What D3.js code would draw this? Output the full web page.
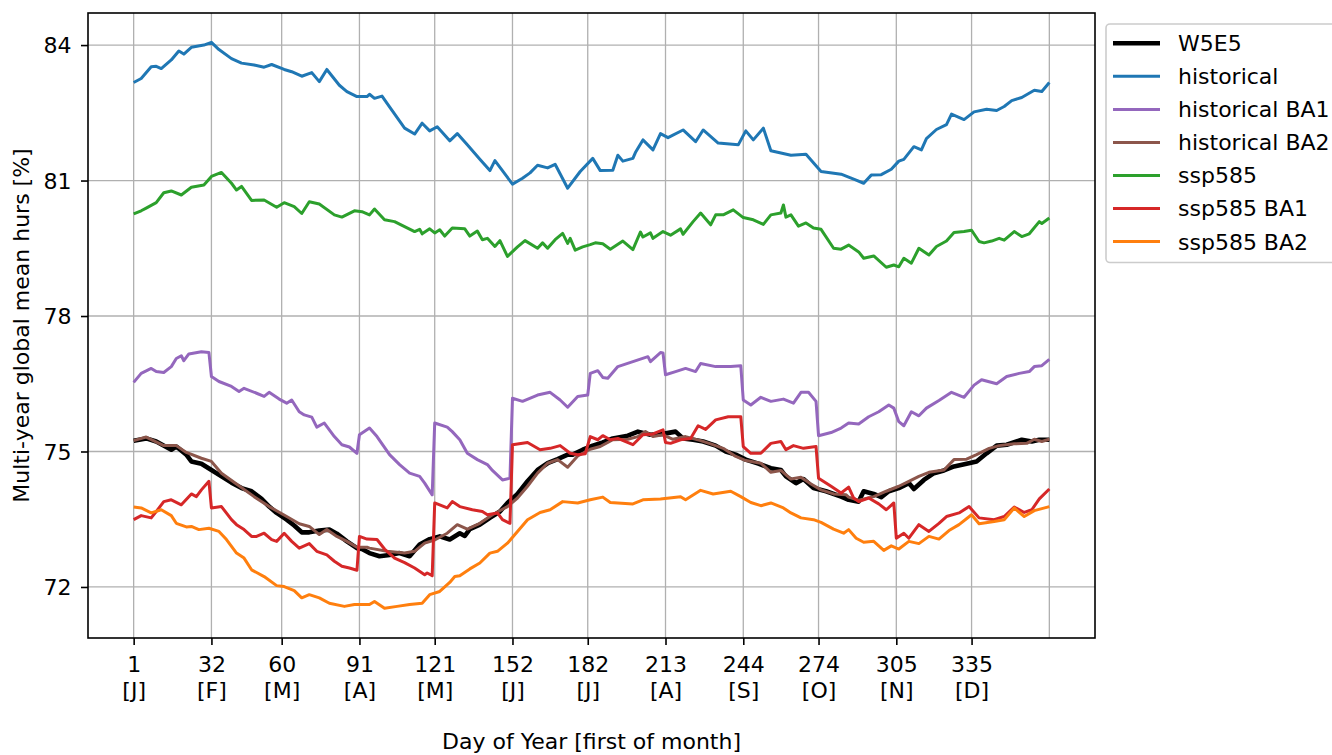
<!DOCTYPE html>
<html>
<head>
<meta charset="utf-8">
<script src="https://cdn.jsdelivr.net/npm/d3@7"></script>
<style>
  body { margin: 0; background: #fff; }
  text { font-family: "DejaVu Sans", sans-serif; fill: #000; }
</style>
</head>
<body>
<div id="chart"></div>
<script>
// x ticks: first day of each month (366 only carries a grid line)
const tickDays = [1, 32, 60, 91, 121, 152, 182, 213, 244, 274, 305, 335, 366];
const tickMonths = ["J", "F", "M", "A", "M", "J", "J", "A", "S", "O", "N", "D", ""];
const yTicks = [72, 75, 78, 81, 84];

// [day of year, multi-year global mean hurs %]
const w5e5 = [[1,75.24],[6,75.29],[10,75.22],[16,75.04],[18,75.11],[22,74.93],[24,74.78],[28,74.73],[32,74.59],[36,74.45],[40,74.31],[44,74.19],[48,74.12],[52,73.95],[55,73.78],[58,73.64],[62,73.49],[65,73.36],[68,73.21],[71,73.21],[75,73.25],[79,73.27],[82,73.18],[86,73.01],[90,72.86],[92,72.84],[95,72.75],[99,72.68],[103,72.71],[107,72.75],[111,72.68],[115,72.94],[119,73.06],[123,73.12],[127,73.05],[131,73.19],[133,73.13],[135,73.28],[139,73.38],[143,73.53],[147,73.67],[150,73.86],[154,74.06],[158,74.34],[162,74.59],[166,74.74],[170,74.83],[174,74.93],[176,74.93],[180,75.04],[184,75.13],[188,75.2],[192,75.29],[198,75.35],[202,75.44],[207,75.37],[212,75.39],[217,75.44],[220,75.29],[224,75.26],[228,75.22],[233,75.13],[237,75.0],[241,74.93],[245,74.82],[250,74.73],[255,74.63],[259,74.59],[261,74.45],[265,74.3],[268,74.39],[272,74.19],[277,74.12],[283,74.0],[286,73.93],[290,73.89],[292,74.12],[296,74.06],[299,73.99],[302,74.12],[306,74.19],[310,74.3],[312,74.17],[316,74.37],[320,74.52],[324,74.58],[328,74.67],[333,74.73],[337,74.78],[341,74.96],[345,75.13],[349,75.15],[355,75.26],[359,75.22],[362,75.26],[366,75.26]];

const historical = [[1,83.17],[4,83.26],[8,83.52],[10,83.53],[12,83.48],[16,83.67],[19,83.87],[21,83.8],[24,83.95],[29,84.0],[32,84.06],[35,83.9],[40,83.7],[44,83.6],[49,83.56],[53,83.51],[56,83.57],[61,83.46],[64,83.41],[68,83.31],[72,83.39],[75,83.19],[78,83.46],[83,83.11],[86,82.97],[90,82.86],[94,82.86],[95,82.91],[97,82.82],[100,82.87],[103,82.63],[109,82.16],[113,82.03],[116,82.27],[119,82.1],[122,82.19],[127,81.88],[130,82.04],[134,81.79],[139,81.47],[143,81.22],[145,81.44],[152,80.92],[156,81.05],[159,81.17],[162,81.34],[166,81.28],[169,81.36],[174,80.83],[179,81.2],[184,81.49],[187,81.22],[192,81.23],[194,81.56],[196,81.43],[200,81.49],[201,81.62],[204,81.9],[208,81.68],[211,82.04],[214,81.95],[220,82.12],[225,81.86],[228,82.12],[234,81.83],[242,81.79],[245,82.1],[248,81.9],[252,82.16],[255,81.66],[263,81.56],[269,81.58],[275,81.2],[283,81.14],[289,81.01],[292,80.94],[295,81.12],[299,81.13],[303,81.25],[306,81.43],[308,81.47],[312,81.75],[315,81.68],[317,81.93],[321,82.13],[325,82.24],[327,82.47],[332,82.35],[336,82.52],[341,82.58],[345,82.55],[348,82.64],[351,82.77],[355,82.84],[360,83.0],[363,82.97],[366,83.17]];

const historicalBA1 = [[1,76.53],[4,76.73],[8,76.84],[10,76.77],[13,76.75],[16,76.88],[18,77.06],[20,77.12],[21,77.01],[23,77.16],[28,77.21],[31,77.19],[32,76.66],[35,76.55],[40,76.44],[43,76.33],[45,76.4],[50,76.29],[53,76.22],[55,76.31],[59,76.16],[62,76.07],[64,76.14],[67,75.88],[69,75.81],[72,75.76],[74,75.54],[77,75.63],[81,75.33],[84,75.15],[87,75.1],[90,74.96],[91,75.37],[95,75.52],[98,75.33],[103,74.93],[107,74.71],[111,74.52],[115,74.45],[117,74.3],[120,74.04],[121,75.63],[126,75.54],[128,75.44],[131,75.26],[134,74.96],[138,74.82],[142,74.71],[144,74.58],[148,74.37],[151,74.41],[152,76.18],[156,76.11],[162,76.25],[167,76.31],[171,76.14],[174,75.98],[178,76.22],[182,76.25],[183,76.73],[186,76.79],[188,76.64],[190,76.62],[194,76.88],[200,76.99],[206,77.1],[207,76.99],[211,77.19],[212,77.18],[213,76.7],[217,76.77],[221,76.84],[225,76.77],[227,76.95],[233,76.88],[239,76.88],[243,76.9],[244,76.14],[247,76.03],[251,76.2],[255,76.11],[260,76.16],[264,76.07],[267,76.31],[270,76.31],[273,76.11],[274,75.35],[279,75.42],[283,75.52],[286,75.63],[290,75.61],[294,75.77],[298,75.88],[302,76.03],[304,75.96],[306,75.66],[308,75.57],[311,75.88],[314,75.79],[317,75.96],[322,76.13],[327,76.31],[332,76.2],[336,76.47],[339,76.59],[345,76.5],[349,76.66],[354,76.73],[358,76.77],[360,76.88],[363,76.9],[366,77.04]];

const historicalBA2 = [[1,75.24],[6,75.32],[13,75.13],[18,75.13],[22,74.98],[28,74.85],[32,74.78],[36,74.52],[42,74.28],[49,74.0],[55,73.78],[62,73.56],[67,73.4],[71,73.34],[75,73.16],[78,73.27],[82,73.12],[86,73.01],[90,72.88],[94,72.88],[95,72.86],[102,72.79],[109,72.75],[113,72.79],[117,72.97],[121,73.04],[126,73.19],[130,73.38],[134,73.28],[139,73.41],[144,73.6],[150,73.78],[154,73.97],[158,74.23],[162,74.52],[166,74.74],[170,74.82],[174,74.65],[178,74.9],[183,75.05],[187,75.11],[192,75.26],[198,75.27],[202,75.33],[205,75.44],[208,75.33],[212,75.37],[216,75.27],[221,75.33],[227,75.24],[231,75.17],[236,75.07],[241,74.89],[245,74.8],[251,74.74],[255,74.54],[259,74.58],[263,74.39],[267,74.43],[271,74.28],[275,74.15],[280,74.06],[285,74.04],[286,73.99],[290,73.92],[296,74.0],[301,74.12],[306,74.23],[310,74.34],[314,74.45],[318,74.54],[324,74.59],[328,74.82],[333,74.83],[337,74.93],[342,75.07],[346,75.13],[352,75.17],[357,75.18],[360,75.27],[363,75.22],[366,75.27]];

const ssp585 = [[1,80.26],[4,80.33],[6,80.39],[10,80.51],[13,80.73],[16,80.77],[20,80.68],[24,80.85],[29,80.9],[32,81.09],[36,81.18],[40,80.94],[42,80.79],[44,80.87],[48,80.56],[53,80.57],[58,80.41],[61,80.51],[65,80.42],[68,80.27],[71,80.53],[75,80.48],[81,80.24],[84,80.19],[89,80.33],[92,80.31],[95,80.24],[97,80.37],[101,80.13],[105,80.09],[109,79.98],[113,79.87],[115,79.92],[116,79.82],[119,79.93],[121,79.84],[123,79.91],[125,79.77],[128,79.95],[133,79.93],[135,79.77],[138,79.88],[140,79.69],[142,79.72],[145,79.54],[147,79.67],[150,79.32],[154,79.53],[157,79.67],[162,79.5],[164,79.62],[166,79.5],[169,79.69],[172,79.83],[174,79.61],[175,79.72],[177,79.46],[180,79.53],[183,79.58],[185,79.62],[188,79.6],[191,79.48],[196,79.66],[200,79.47],[203,79.86],[204,79.75],[207,79.84],[208,79.72],[212,79.87],[215,79.79],[219,79.93],[220,79.81],[224,80.09],[227,80.28],[231,80.02],[233,80.24],[236,80.24],[240,80.35],[244,80.18],[248,80.13],[252,80.03],[255,80.24],[259,80.28],[260,80.46],[261,80.19],[263,80.24],[266,79.99],[269,80.06],[272,79.95],[275,79.92],[280,79.5],[283,79.48],[286,79.57],[290,79.42],[292,79.28],[296,79.33],[301,79.08],[304,79.13],[306,79.09],[308,79.28],[311,79.17],[314,79.5],[318,79.35],[321,79.54],[325,79.66],[328,79.85],[332,79.87],[335,79.9],[338,79.65],[340,79.62],[343,79.66],[346,79.72],[348,79.68],[352,79.87],[355,79.76],[358,79.82],[362,80.09],[363,80.05],[366,80.17]];

const ssp585BA1 = [[1,73.49],[4,73.58],[8,73.53],[10,73.67],[13,73.89],[16,73.93],[20,73.82],[24,74.06],[26,74.0],[28,74.15],[31,74.34],[32,73.75],[36,73.78],[40,73.49],[42,73.38],[45,73.27],[48,73.12],[50,73.12],[53,73.19],[56,73.05],[58,73.01],[61,73.19],[64,73.01],[67,72.86],[71,72.96],[74,72.79],[78,72.71],[81,72.57],[84,72.46],[87,72.42],[90,72.37],[91,73.12],[94,73.06],[98,73.05],[101,72.84],[105,72.64],[109,72.54],[113,72.42],[117,72.27],[118,72.31],[120,72.25],[121,73.86],[126,73.75],[128,73.89],[131,73.78],[136,73.71],[140,73.67],[142,73.6],[146,73.64],[148,73.49],[151,73.41],[152,75.15],[158,75.2],[163,75.04],[167,75.07],[171,75.13],[175,74.96],[178,74.93],[181,74.95],[183,75.33],[186,75.26],[188,75.35],[191,75.26],[194,75.29],[200,75.15],[204,75.37],[208,75.39],[212,75.48],[213,75.2],[215,75.18],[219,75.26],[223,75.29],[226,75.57],[229,75.49],[233,75.7],[238,75.77],[243,75.77],[244,75.11],[247,74.96],[251,74.96],[255,75.18],[259,75.22],[261,75.04],[264,75.13],[268,75.07],[273,75.11],[274,74.41],[279,74.23],[283,74.08],[286,74.21],[288,73.97],[290,73.89],[294,73.97],[298,73.84],[301,73.71],[304,73.86],[305,73.08],[308,73.19],[310,73.08],[314,73.38],[318,73.23],[322,73.41],[325,73.56],[330,73.64],[334,73.78],[338,73.53],[344,73.49],[348,73.56],[352,73.77],[356,73.65],[359,73.71],[362,73.95],[366,74.17]];

const ssp585BA2 = [[1,73.77],[4,73.75],[8,73.64],[12,73.71],[16,73.58],[18,73.41],[22,73.33],[24,73.34],[27,73.27],[31,73.3],[35,73.23],[38,73.05],[42,72.75],[45,72.64],[48,72.38],[53,72.23],[58,72.03],[61,72.01],[65,71.92],[68,71.76],[71,71.83],[75,71.76],[79,71.64],[85,71.57],[89,71.61],[92,71.61],[95,71.61],[97,71.68],[101,71.53],[106,71.57],[111,71.61],[116,71.64],[119,71.83],[123,71.9],[127,72.1],[129,72.23],[131,72.25],[135,72.4],[139,72.53],[143,72.75],[146,72.79],[150,72.97],[154,73.23],[158,73.49],[163,73.65],[167,73.71],[172,73.89],[178,73.86],[183,73.93],[188,73.99],[191,73.87],[200,73.84],[204,73.93],[211,73.95],[219,74.0],[221,73.93],[227,74.14],[232,74.06],[239,74.12],[243,74.0],[247,73.87],[251,73.8],[255,73.86],[260,73.75],[263,73.64],[267,73.53],[272,73.49],[275,73.43],[280,73.28],[284,73.19],[286,73.27],[289,73.08],[292,72.99],[296,73.01],[300,72.81],[303,72.91],[306,72.84],[310,73.01],[314,72.96],[318,73.12],[322,73.06],[326,73.25],[330,73.38],[335,73.6],[338,73.4],[344,73.45],[348,73.49],[352,73.75],[356,73.56],[360,73.69],[366,73.78]];

const seriesNames = ["W5E5", "historical", "historical BA1", "historical BA2", "ssp585", "ssp585 BA1", "ssp585 BA2"];
const seriesData = [w5e5, historical, historicalBA1, historicalBA2, ssp585, ssp585BA1, ssp585BA2];
const colors = ["#000000", "#1f77b4", "#9467bd", "#8c564b", "#2ca02c", "#d62728", "#ff7f0e"];

const width = 1332, height = 755;
const plotLeft = 88, plotRight = 1095, plotTop = 13, plotBottom = 638;

const svg = d3.select("#chart").append("svg")
  .attr("width", width)
  .attr("height", height);

const x = d3.scaleLinear().domain([-17.2, 384.2]).range([plotLeft, plotRight]);
const y = d3.scaleLinear().domain([70.87, 84.71]).range([plotBottom, plotTop]);

// grid
svg.append("g").selectAll("line.vgrid")
  .data(tickDays)
  .enter().append("line")
  .attr("class", "vgrid")
  .attr("x1", d => x(d)).attr("x2", d => x(d))
  .attr("y1", plotTop).attr("y2", plotBottom)
  .style("stroke", "#b0b0b0")
  .style("stroke-width", 1.3);

svg.append("g").selectAll("line.hgrid")
  .data(yTicks)
  .enter().append("line")
  .attr("class", "hgrid")
  .attr("x1", plotLeft).attr("x2", plotRight)
  .attr("y1", d => y(d)).attr("y2", d => y(d))
  .style("stroke", "#b0b0b0")
  .style("stroke-width", 1.3);

// lines
const line = d3.line()
  .x(d => x(d[0]))
  .y(d => y(d[1]));

seriesData.forEach((data, i) => {
  svg.append("path")
    .datum(data)
    .attr("fill", "none")
    .attr("stroke", colors[i])
    .attr("stroke-width", i === 0 ? 4.6 : 3)
    .attr("stroke-linejoin", "round")
    .attr("d", line);
});

// axes
const xAxis = d3.axisBottom(x)
  .tickValues(tickDays.filter((d, i) => tickMonths[i] !== ""))
  .tickSize(7)
  .tickSizeOuter(0);

const gx = svg.append("g")
  .attr("transform", `translate(0, ${plotBottom})`)
  .call(xAxis);
gx.select(".domain").remove();
gx.selectAll(".tick line").style("stroke", "#000").style("stroke-width", 1.6);
gx.selectAll(".tick text").each(function (d, i) {
  const t = d3.select(this);
  t.text(null).attr("dy", null).attr("y", null)
    .style("font-size", "22px").style("fill", "#000");
  t.append("tspan").attr("x", 0).attr("y", 33.5).text(d);
  t.append("tspan").attr("x", 0).attr("y", 59.5).text("[" + tickMonths[i] + "]");
});

const yAxis = d3.axisLeft(y)
  .tickValues(yTicks)
  .tickSize(7)
  .tickPadding(9.5)
  .tickSizeOuter(0);

const gy = svg.append("g")
  .attr("transform", `translate(${plotLeft}, 0)`)
  .call(yAxis);
gy.select(".domain").remove();
gy.selectAll(".tick line").style("stroke", "#000").style("stroke-width", 1.6);
gy.selectAll(".tick text")
  .attr("dy", "0.36em")
  .style("font-size", "22px")
  .style("fill", "#000");

// frame
svg.append("rect")
  .attr("x", plotLeft).attr("y", plotTop)
  .attr("width", plotRight - plotLeft).attr("height", plotBottom - plotTop)
  .attr("fill", "none")
  .attr("stroke", "#000")
  .attr("stroke-width", 1.6);

// axis labels
svg.append("text")
  .attr("x", (plotLeft + plotRight) / 2)
  .attr("y", 749)
  .attr("text-anchor", "middle")
  .style("font-size", "22px")
  .text("Day of Year [first of month]");

svg.append("text")
  .attr("transform", `translate(29, ${(plotTop + plotBottom) / 2}) rotate(-90)`)
  .attr("text-anchor", "middle")
  .style("font-size", "22px")
  .text("Multi-year global mean hurs [%]");

// legend
const legend = svg.append("g");
legend.append("rect")
  .attr("x", 1106).attr("y", 24)
  .attr("width", 250).attr("height", 238.5)
  .attr("rx", 4).attr("ry", 4)
  .attr("fill", "#fff")
  .attr("fill-opacity", 0.8)
  .attr("stroke", "#cccccc")
  .attr("stroke-width", 1.6);

seriesNames.forEach((name, i) => {
  const cy = 43.3 + i * 33.05;
  legend.append("line")
    .attr("x1", 1113).attr("x2", 1160)
    .attr("y1", cy).attr("y2", cy)
    .attr("stroke", colors[i])
    .attr("stroke-width", i === 0 ? 4.6 : 3);
  legend.append("text")
    .attr("x", 1178)
    .attr("y", cy)
    .attr("dy", "0.36em")
    .style("font-size", "22px")
    .text(name);
});
</script>
</body>
</html>
